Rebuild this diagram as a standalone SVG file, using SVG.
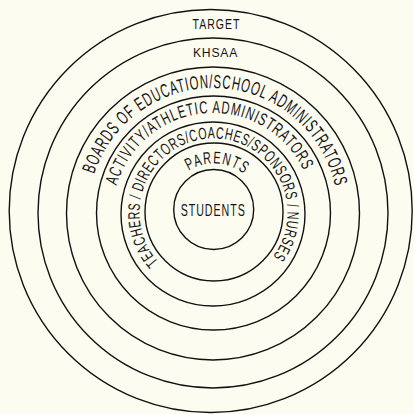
<svg xmlns="http://www.w3.org/2000/svg" width="414" height="414" viewBox="0 0 414 414">
  <style>
    .ring { fill: none; stroke: #111111; stroke-width: 1.4; }
    .lbl { font-family: "Liberation Sans", Arial, sans-serif; fill: #151515; }
  </style>
  <defs>
    <path id="pBoards" d="M 213 338 A 125 125 0 1 1 213 88 A 125 125 0 1 1 213 338"/>
    <path id="pActivity" d="M 213 313 A 100 100 0 1 1 213 113 A 100 100 0 1 1 213 313"/>
    <path id="pTeachers" d="M 213.5 286.5 A 74 74 0 1 1 213.5 138.5 A 74 74 0 1 1 213.5 286.5"/>
    <path id="pParents" d="M 214 260.5 A 48.5 48.5 0 1 1 214 163.5 A 48.5 48.5 0 1 1 214 260.5"/>
  </defs>
  <rect width="414" height="414" fill="#fcfcf0"/>

  <g id="target">
    <circle class="ring" cx="210.7" cy="211" r="201.5"/>
    <text class="lbl" x="216.5" y="29" font-size="15.5" letter-spacing="1.5" text-anchor="middle" textLength="48" lengthAdjust="spacingAndGlyphs">TARGET</text>
  </g>
  <g id="khsaa">
    <circle class="ring" cx="213" cy="213" r="175"/>
    <text class="lbl" x="215.5" y="57.3" font-size="13" letter-spacing="0.8" text-anchor="middle" textLength="45" lengthAdjust="spacingAndGlyphs">KHSAA</text>
  </g>
  <g id="boards">
    <circle class="ring" cx="213" cy="213.5" r="146.5"/>
    <text class="lbl" font-size="19" letter-spacing="1.5" text-anchor="middle"><textPath href="#pBoards" startOffset="50.83%" textLength="327" lengthAdjust="spacingAndGlyphs">BOARDS OF EDUCATION/SCHOOL ADMINISTRATORS</textPath></text>
  </g>
  <g id="activity">
    <circle class="ring" cx="213.5" cy="213" r="117"/>
    <text class="lbl" font-size="17.5" letter-spacing="1.5" text-anchor="middle"><textPath href="#pActivity" startOffset="48.75%" textLength="243" lengthAdjust="spacingAndGlyphs">ACTIVITY/ATHLETIC ADMINISTRATORS</textPath></text>
  </g>
  <g id="teachers">
    <circle class="ring" cx="213" cy="214" r="92"/>
    <text class="lbl" font-size="16.5" letter-spacing="1" text-anchor="middle"><textPath href="#pTeachers" startOffset="49.3%" textLength="334" lengthAdjust="spacingAndGlyphs">TEACHERS / DIRECTORS/COACHES/SPONSORS / NURSES</textPath></text>
  </g>
  <g id="parents">
    <circle class="ring" cx="214" cy="212" r="69"/>
    <text class="lbl" font-size="17" letter-spacing="2" text-anchor="middle"><textPath href="#pParents" startOffset="51.1%" textLength="60" lengthAdjust="spacingAndGlyphs">PARENTS</textPath></text>
  </g>
  <g id="students">
    <circle class="ring" cx="213.7" cy="209.5" r="40"/>
    <text class="lbl" x="213.2" y="215.7" font-size="16.5" letter-spacing="1.5" text-anchor="middle" textLength="65" lengthAdjust="spacingAndGlyphs">STUDENTS</text>
  </g>
</svg>
